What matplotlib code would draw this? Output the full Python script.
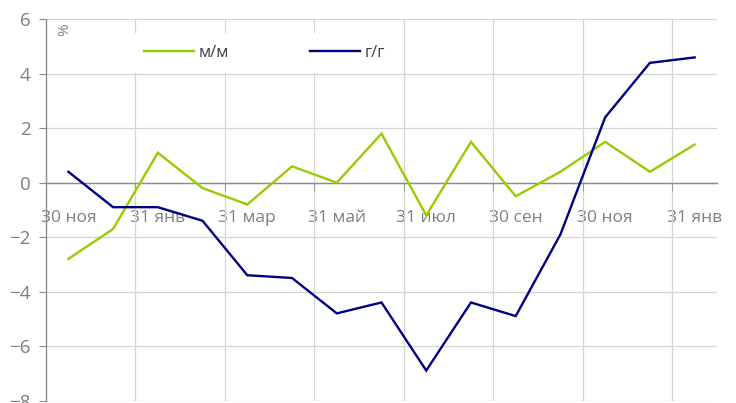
import numpy as np
import matplotlib.pyplot as plt

# period labels (every second month is labelled)
dates = ["30 ноя", "31 дек", "31 янв", "28 фев", "31 мар", "30 апр", "31 май",
         "30 июн", "31 июл", "31 авг", "30 сен", "31 окт", "30 ноя", "31 дек", "31 янв"]
mm = [-2.8, -1.7, 1.1, -0.2, -0.8, 0.6, 0.0, 1.8, -1.2, 1.5, -0.5, 0.4, 1.5, 0.4, 1.4]
yy = [0.4, -0.9, -0.9, -1.4, -3.4, -3.5, -4.8, -4.4, -6.9, -4.4, -4.9, -1.9, 2.4, 4.4, 4.6]
y_ticks = [-8, -6, -4, -2, 0, 2, 4, 6]

green = "#99cc00"
navy = "#000080"
grid_c = "#d4d4d4"
axis_c = "#8c8c8c"
text_c = "#7f7f7f"

plt.rcParams['font.family'] = ['Open Sans', 'DejaVu Sans']

fig = plt.figure(figsize=(7.36, 4.03), dpi=100)
ax = fig.add_axes([46 / 736, 2.5 / 403, (717 - 46) / 736, (403 - 19.3 - 2.5) / 403])

x = np.arange(len(dates))
ax.plot(x, mm, color=green, lw=1.7, label="м/м", zorder=3, solid_joinstyle='miter')
ax.plot(x, yy, color=navy, lw=1.7, label="г/г", zorder=3, solid_joinstyle='miter')

ax.set_xlim(-0.5, len(dates) - 0.5)
ax.set_ylim(-8, 6)

# x axis sits on zero; labels every 2 points, ticks at group boundaries
ax.spines['bottom'].set_position(('data', 0))
for s in ['top', 'right']:
    ax.spines[s].set_visible(False)
for s in ['bottom', 'left']:
    ax.spines[s].set_color(axis_c)
    ax.spines[s].set_linewidth(1.0)
    ax.spines[s].set_zorder(2)

ax.set_xticks(x[::2])
ax.set_xticklabels(dates[::2])
ax.set_xticks(np.arange(1.5, len(dates) - 1, 2), minor=True)
ax.tick_params(axis='x', which='major', length=0, pad=20, labelsize=12.5, labelcolor=text_c)
ax.tick_params(axis='x', which='minor', length=6, direction='out', color=axis_c)

ax.set_yticks(y_ticks)
ax.tick_params(axis='y', length=5, direction='out', color=axis_c, labelsize=13.5,
               labelcolor=text_c, pad=6)

ax.grid(axis='x', which='minor', color=grid_c, lw=0.9, zorder=0)
ax.grid(axis='y', which='major', color=grid_c, lw=0.9, zorder=0)
ax.set_axisbelow(True)
for lab in ax.get_xticklabels():
    lab.set_zorder(1)

ax.text(11 / 671, 0.99, "%", transform=ax.transAxes, rotation=90, ha='left', va='top',
        color=text_c, fontsize=11)

leg = ax.legend(loc='upper left', bbox_to_anchor=(78 / 671, 0.985), ncol=2, frameon=True,
                handlelength=3.0, columnspacing=4.9, handletextpad=0.25, fontsize=12,
                borderpad=0.7)
leg.get_frame().set_facecolor('white')
leg.get_frame().set_edgecolor('none')
leg.get_frame().set_alpha(1)
for t in leg.get_texts():
    t.set_color("#404040")

fig.savefig("out.png", dpi=100)
